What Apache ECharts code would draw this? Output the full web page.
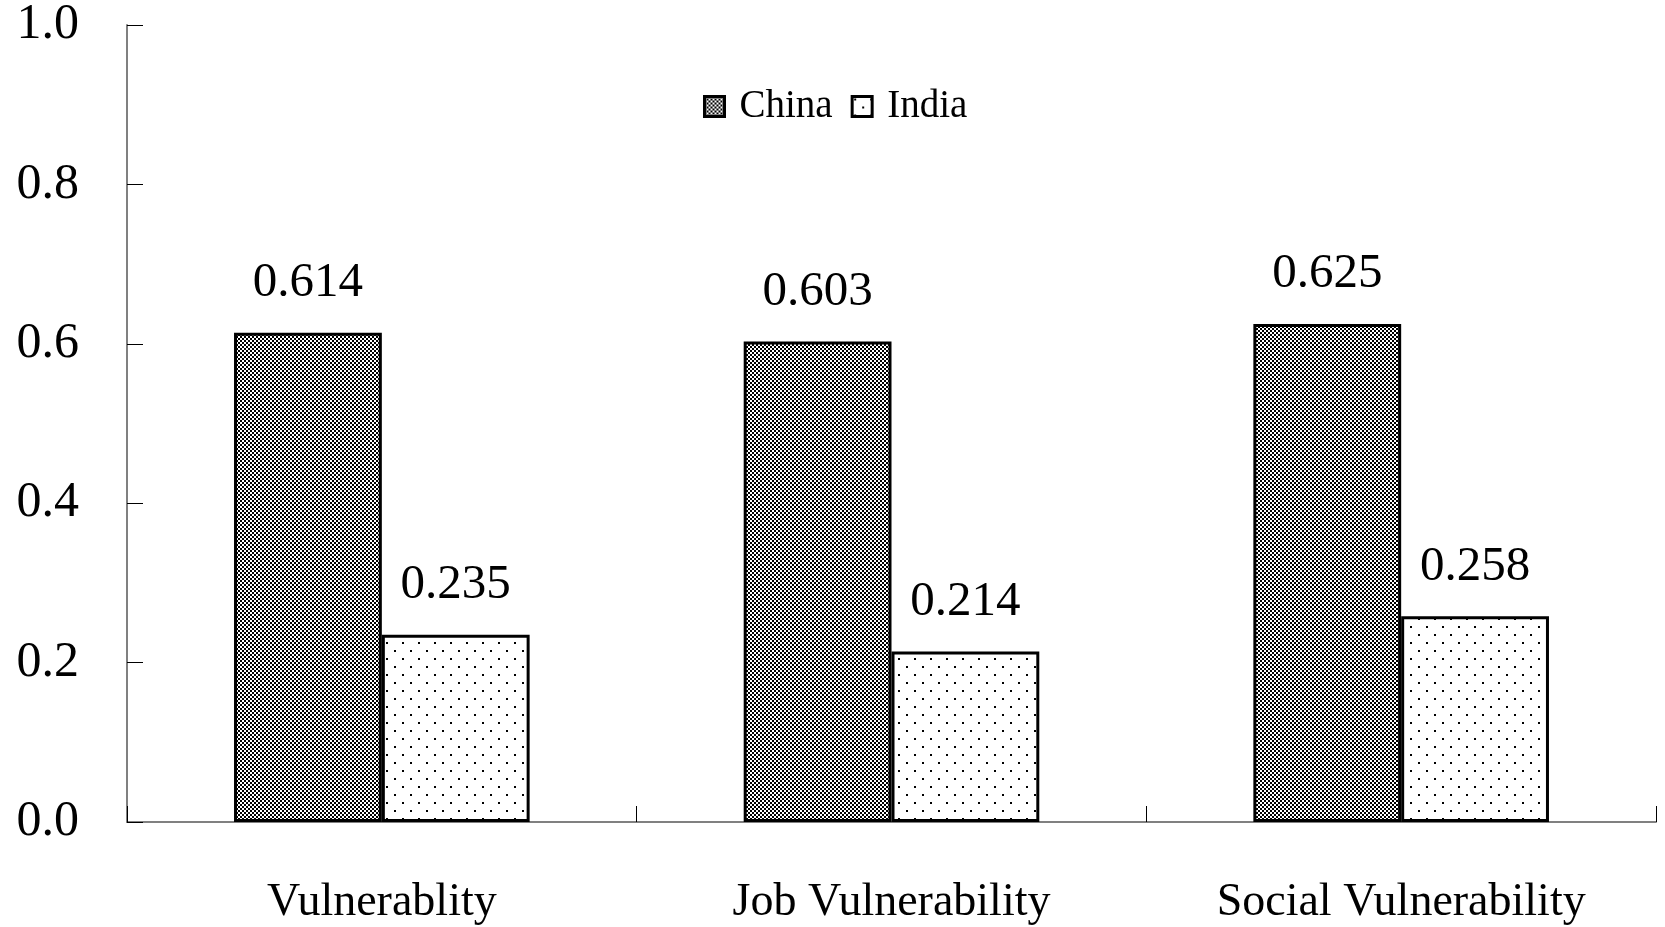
<!DOCTYPE html>
<html>
<head>
<meta charset="utf-8">
<title>Vulnerability: China vs India</title>
<script src="https://cdn.jsdelivr.net/npm/echarts@6/dist/echarts.min.js"></script>
<style>
  html, body { margin: 0; padding: 0; background: #fff; }
  #chart { width: 1665px; height: 927px; }
</style>
</head>
<body>
<div id="chart"></div>
<script>
// Indicator categories and index values per country
const categories = ['Vulnerablity', 'Job Vulnerability', 'Social Vulnerability'];
const chinaValues = [0.614, 0.603, 0.625];
const indiaValues = [0.235, 0.214, 0.258];
const seriesNames = ['China', 'India'];
const yTickLabels = ['0.0', '0.2', '0.4', '0.6', '0.8', '1.0'];

const FONT = "'Liberation Serif', 'Times New Roman', serif";

// Fine black/white checkerboard fill
function checkerPattern() {
  const c = document.createElement('canvas');
  c.width = 4; c.height = 4;
  const g = c.getContext('2d');
  g.fillStyle = '#fff'; g.fillRect(0, 0, 4, 4);
  g.fillStyle = '#000';
  g.fillRect(0, 0, 2, 2);
  g.fillRect(2, 2, 2, 2);
  return { image: c, repeat: 'repeat' };
}

// Sparse staggered dot fill
function dotPattern() {
  const c = document.createElement('canvas');
  c.width = 16; c.height = 16;
  const g = c.getContext('2d');
  g.fillStyle = '#fff'; g.fillRect(0, 0, 16, 16);
  g.fillStyle = '#000';
  g.fillRect(2, 2, 2, 2);
  g.fillRect(10, 10, 2, 2);
  return { image: c, repeat: 'repeat' };
}

const chart = echarts.init(document.getElementById('chart'), null, { renderer: 'canvas' });

const valueLabel = {
  show: true,
  position: 'top',
  distance: 25,
  color: '#000',
  fontFamily: FONT,
  fontSize: 49,
  formatter: p => p.value.toFixed(3)
};

chart.setOption({
  animation: false,
  backgroundColor: '#fff',
  grid: { left: 127, right: 9, top: 24, bottom: 105, containLabel: false },
  legend: {
    data: seriesNames,
    left: 698,
    top: 82,
    icon: 'rect',
    itemWidth: 20,
    itemHeight: 20,
    itemGap: 18,
    itemStyle: { borderColor: '#000', borderWidth: 3 },
    textStyle: { fontFamily: FONT, fontSize: 39, color: '#000', padding: [0, 0, 0, 10] }
  },
  xAxis: {
    type: 'category',
    data: categories,
    boundaryGap: true,
    axisLine: { lineStyle: { color: '#808080', width: 2 } },
    axisTick: { show: true, inside: true, length: 16, alignWithLabel: false, lineStyle: { color: '#000', width: 1 } },
    axisLabel: { color: '#000', fontFamily: FONT, fontSize: 46, margin: 58 },
    splitLine: { show: false }
  },
  yAxis: {
    type: 'value',
    min: 0,
    max: 1,
    interval: 0.2,
    axisLine: { show: true, lineStyle: { color: '#808080', width: 2 } },
    axisTick: { show: true, inside: true, length: 16, lineStyle: { color: '#000', width: 1 } },
    axisLabel: {
      color: '#000', fontFamily: FONT, fontSize: 50, margin: 48,
      formatter: v => yTickLabels[Math.round(v / 0.2)]
    },
    splitLine: { show: false }
  },
  series: [
    {
      name: seriesNames[0],
      type: 'bar',
      data: chinaValues,
      barGap: '0%',
      barCategoryGap: '42%',
      itemStyle: { color: checkerPattern(), borderColor: '#000', borderWidth: 3 },
      label: valueLabel
    },
    {
      name: seriesNames[1],
      type: 'bar',
      data: indiaValues,
      itemStyle: { color: dotPattern(), borderColor: '#000', borderWidth: 3 },
      label: valueLabel
    }
  ]
});
</script>
</body>
</html>
